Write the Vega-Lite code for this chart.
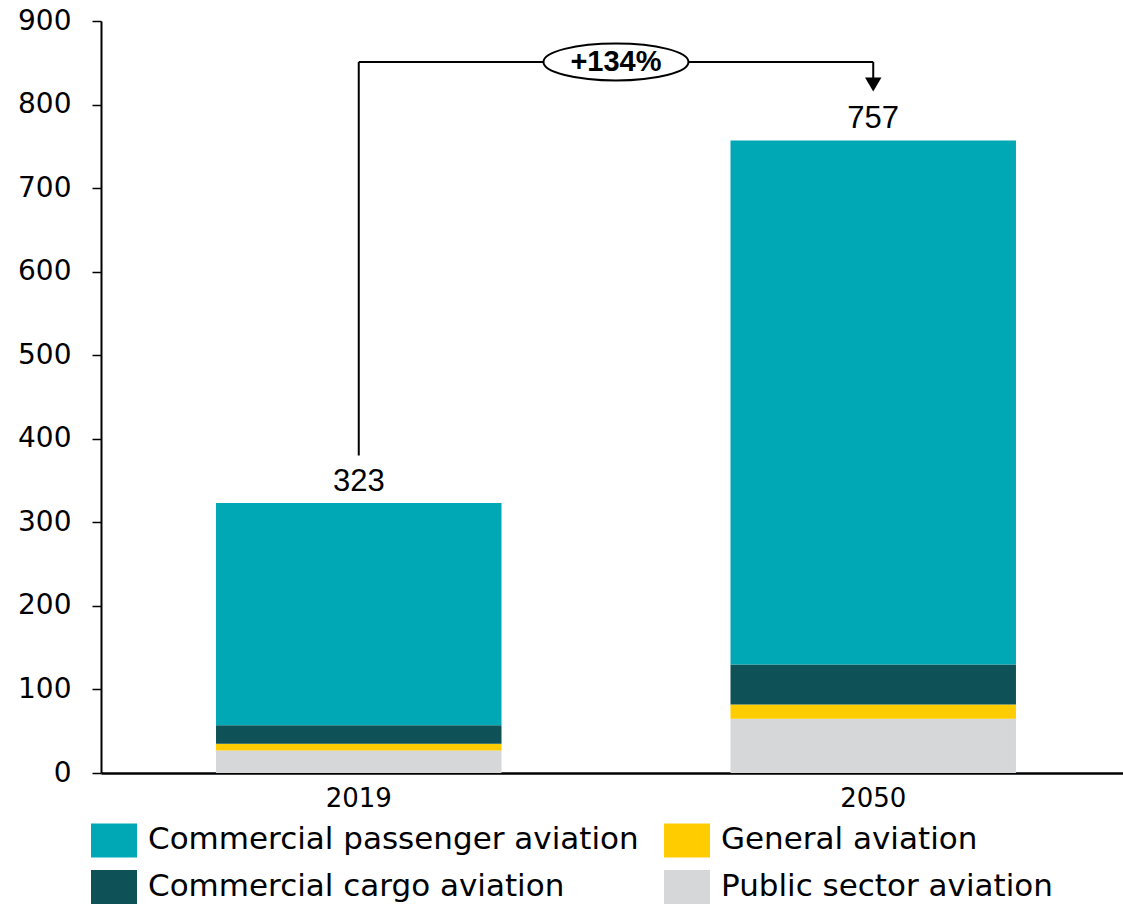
{
  "$schema": "https://vega.github.io/schema/vega-lite/v6.json",
  "autosize": {"type": "none"},
  "width": 1022,
  "height": 752,
  "padding": {"left": 101, "top": 21, "right": 0, "bottom": 132},
  "background": "white",
  "config": {"view": {"stroke": null}, "font": "DejaVu Sans"},
  "datasets": {
    "main": [
      {"year": "2019", "category": "Public sector aviation", "ord": 1, "value": 27},
      {"year": "2019", "category": "General aviation", "ord": 2, "value": 8},
      {"year": "2019", "category": "Commercial cargo aviation", "ord": 3, "value": 22},
      {"year": "2019", "category": "Commercial passenger aviation", "ord": 4, "value": 266},
      {"year": "2050", "category": "Public sector aviation", "ord": 1, "value": 65},
      {"year": "2050", "category": "General aviation", "ord": 2, "value": 17},
      {"year": "2050", "category": "Commercial cargo aviation", "ord": 3, "value": 48},
      {"year": "2050", "category": "Commercial passenger aviation", "ord": 4, "value": 627}
    ],
    "totals": [
      {"year": "2019", "total": 323},
      {"year": "2050", "total": 757}
    ],
    "vlines": [
      {"year": "2019", "y": 380, "y2": 851},
      {"year": "2050", "y": 824, "y2": 851}
    ],
    "hline": [
      {"year": "2019", "year2": "2050", "y": 851}
    ],
    "arrow": [
      {"year": "2050", "y": 824}
    ],
    "growth": [
      {"year": "2019", "y": 851, "label": "+134%"}
    ]
  },
  "encoding": {
    "x": {
      "field": "year",
      "type": "nominal",
      "title": null,
      "scale": {"domain": ["2019", "2050"], "paddingInner": 0.4451, "paddingOuter": 0.2158, "align": 0.518},
      "axis": {
        "title": null,
        "domainColor": "#000000",
        "domainWidth": 2.5,
        "ticks": false,
        "tickSize": 0,
        "labelFontSize": 26,
        "labelPadding": 12,
        "labelColor": "#000000",
        "labelAngle": 0,
        "labelFont": "DejaVu Sans"
      }
    }
  },
  "layer": [
    {
      "data": {"name": "main"},
      "mark": {"type": "bar"},
      "encoding": {
        "y": {
          "field": "value",
          "type": "quantitative",
          "stack": "zero",
          "title": null,
          "scale": {"domain": [0, 900], "nice": false},
          "axis": {
            "title": null,
            "values": [0, 100, 200, 300, 400, 500, 600, 700, 800, 900],
            "grid": false,
            "domainColor": "#000000",
            "domainWidth": 2,
            "tickColor": "#000000",
            "tickWidth": 1.5,
            "tickSize": 9,
            "labelFontSize": 28,
            "labelPadding": 21,
            "labelColor": "#000000",
            "labelFont": "DejaVu Sans"
          }
        },
        "color": {
          "field": "category",
          "type": "nominal",
          "scale": {
            "domain": ["Commercial passenger aviation", "General aviation", "Commercial cargo aviation", "Public sector aviation"],
            "range": ["#00A8B5", "#FFCC00", "#0E5157", "#D6D7D9"]
          },
          "legend": {
            "orient": "none",
            "legendX": -10,
            "legendY": 796,
            "direction": "horizontal",
            "columns": 2,
            "title": null,
            "symbolType": "M-1,-0.74H1V0.74H-1Z",
            "symbolSize": 2116,
            "symbolStrokeWidth": 0,
            "symbolOpacity": 1,
            "labelFont": "DejaVu Sans",
            "labelFontSize": 31,
            "labelColor": "#000000",
            "labelOffset": 11,
            "labelLimit": 0,
            "rowPadding": 6,
            "columnPadding": 25,
            "padding": 0
          }
        },
        "order": {"field": "ord", "type": "quantitative"}
      }
    },
    {
      "data": {"name": "totals"},
      "mark": {"type": "text", "baseline": "alphabetic", "dy": -12, "font": "Liberation Sans", "fontSize": 31, "color": "#000000"},
      "encoding": {
        "y": {"field": "total", "type": "quantitative", "title": null},
        "text": {"field": "total", "type": "quantitative"}
      }
    },
    {
      "data": {"name": "vlines"},
      "mark": {"type": "rule", "color": "#000000", "strokeWidth": 2},
      "encoding": {
        "y": {"field": "y", "type": "quantitative", "title": null},
        "y2": {"field": "y2"}
      }
    },
    {
      "data": {"name": "hline"},
      "mark": {"type": "rule", "color": "#000000", "strokeWidth": 2},
      "encoding": {
        "x2": {"field": "year2"},
        "y": {"field": "y", "type": "quantitative", "title": null}
      }
    },
    {
      "data": {"name": "arrow"},
      "mark": {"type": "point", "shape": "triangle-down", "filled": true, "color": "#000000", "size": 270, "opacity": 1},
      "encoding": {
        "y": {"field": "y", "type": "quantitative", "title": null}
      }
    },
    {
      "data": {"name": "growth"},
      "mark": {
        "type": "point",
        "shape": "M-1,0C-1,-0.14,-0.552,-0.255,0,-0.255C0.552,-0.255,1,-0.14,1,0C1,0.14,0.552,0.255,0,0.255C-0.552,0.255,-1,0.14,-1,0Z",
        "filled": true,
        "fill": "#ffffff",
        "stroke": "#000000",
        "strokeWidth": 2,
        "size": 21025,
        "opacity": 1
      },
      "encoding": {
        "x": {"field": "year", "type": "nominal", "bandPosition": 1.401},
        "y": {"field": "y", "type": "quantitative", "title": null}
      }
    },
    {
      "data": {"name": "growth"},
      "mark": {"type": "text", "baseline": "middle", "align": "center", "font": "Liberation Sans", "fontWeight": "bold", "fontSize": 29, "color": "#000000"},
      "encoding": {
        "x": {"field": "year", "type": "nominal", "bandPosition": 1.401},
        "y": {"field": "y", "type": "quantitative", "title": null},
        "text": {"field": "label"}
      }
    }
  ]
}
